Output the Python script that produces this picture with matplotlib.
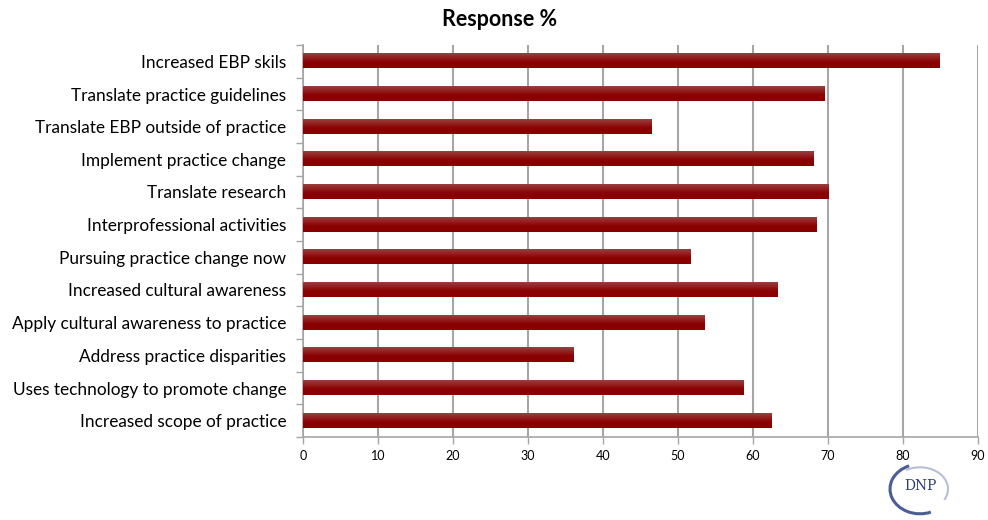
import matplotlib
matplotlib.use("Agg")
import matplotlib.pyplot as plt
import numpy as np
from matplotlib.patches import Arc

categories = [
    "Increased EBP skils",
    "Translate practice guidelines",
    "Translate EBP outside of practice",
    "Implement practice change",
    "Translate research",
    "Interprofessional activities",
    "Pursuing practice change now",
    "Increased cultural awareness",
    "Apply cultural awareness to practice",
    "Address practice disparities",
    "Uses technology to promote change",
    "Increased scope of practice",
]
response = [84.8, 69.5, 46.5, 68.1, 70.0, 68.4, 51.7, 63.3, 53.5, 36.1, 58.8, 62.4]
xticks = [0, 10, 20, 30, 40, 50, 60, 70, 80, 90]

plt.rcParams["font.family"] = ["Lato", "DejaVu Sans"]

fig = plt.figure(figsize=(9.88, 5.2), dpi=100)
ax = fig.add_axes([303 / 988, 1 - 437 / 520, 675 / 988, 392 / 520])

ypos = np.arange(len(categories))[::-1]
bars = ax.barh(ypos, response, height=0.43, color="#8b0000", zorder=3)

# gradient overlay (lighter on top, dark red below)
grad = np.linspace(0, 1, 50).reshape(-1, 1)
top = np.array([0.60, 0.25, 0.25])
bot = np.array([0.545, 0.0, 0.0])
mix = np.clip(grad / 0.6, 0, 1)
img = top[None, None, :] * (1 - mix[..., None]) + bot[None, None, :] * mix[..., None]
for b in bars:
    x0, y0 = b.get_x(), b.get_y()
    w, h = b.get_width(), b.get_height()
    ax.imshow(img, extent=(x0, x0 + w, y0, y0 + h), origin="upper",
              aspect="auto", zorder=4, interpolation="bilinear")

ax.set_xlim(0, 90)
ax.set_ylim(-0.5, len(categories) - 0.5)
ax.set_xticks(xticks)
ax.set_xticklabels([str(t) for t in xticks], fontsize=9)
ax.set_yticks(ypos)
ax.set_yticklabels(categories, fontsize=12.4)
ax.set_yticks(np.arange(-0.5, len(categories), 1), minor=True)
ax.tick_params(axis="y", which="major", length=0, pad=12)
ax.tick_params(axis="y", which="minor", length=5, color="#a6a6a6", width=1)
ax.tick_params(axis="x", length=5, color="#a6a6a6", width=1, pad=4)

ax.grid(axis="x", color="#a6a6a6", linewidth=1.5, zorder=0)
for s in ["top", "right"]:
    ax.spines[s].set_visible(False)
for s in ["left", "bottom"]:
    ax.spines[s].set_color("#a6a6a6")
    ax.spines[s].set_linewidth(1.2)

fig.text(0.506, 0.963, "Response %", ha="center", va="center",
         fontsize=15.5, fontweight="bold")

# small DNP logo bottom right
lax = fig.add_axes([880 / 988, 0.0, 80 / 988, 62 / 520])
lax.set_xlim(-1, 1)
lax.set_ylim(-1, 1)
lax.axis("off")
lax.add_patch(Arc((0, 0), 1.5, 1.6, theta1=110, theta2=290, color="#4a5d94", lw=2.2))
lax.add_patch(Arc((0, 0), 1.4, 1.4, theta1=-30, theta2=120, color="#b5bfd6", lw=1.5))
lax.text(0, 0.1, "DNP", ha="center", va="center", fontsize=10,
         family="DejaVu Serif", color="#2c3e7a")

fig.savefig("out.png", dpi=100)
